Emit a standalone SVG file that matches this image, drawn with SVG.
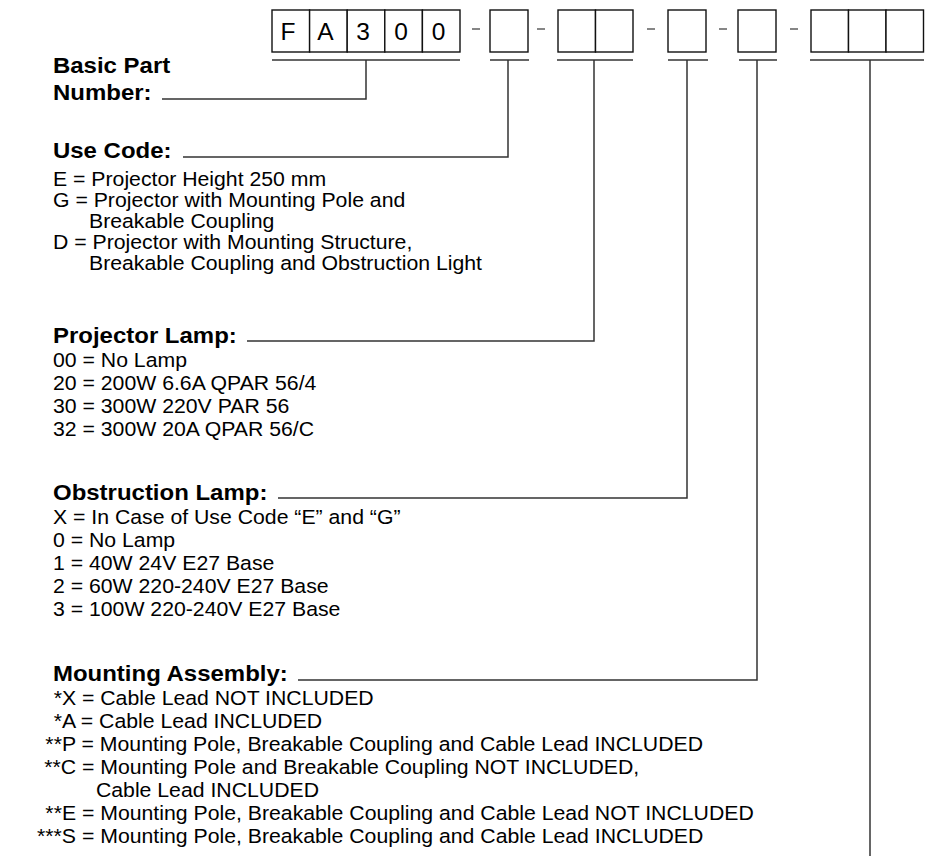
<svg xmlns="http://www.w3.org/2000/svg" width="929" height="859" viewBox="0 0 929 859">
<style>
.h{font-family:"Liberation Sans",Arial,sans-serif;font-weight:bold;font-size:22px;fill:#000}
.t{font-family:"Liberation Sans",Arial,sans-serif;font-size:19.5px;fill:#000}
.c{font-family:"Liberation Sans",Arial,sans-serif;font-size:24.5px;fill:#000;text-anchor:middle}
.box{fill:#fff;stroke:#111;stroke-width:1.4}
.ln{fill:none;stroke:#333;stroke-width:1.5}
.d{stroke:#444;stroke-width:1.3}
</style>
<rect width="929" height="859" fill="#fff"/>
<g id="part-number">
<rect class="box" x="272" y="10" width="37.6" height="42"/>
<rect class="box" x="309.6" y="10" width="37.6" height="42"/>
<rect class="box" x="347.2" y="10" width="37.6" height="42"/>
<rect class="box" x="384.8" y="10" width="37.6" height="42"/>
<rect class="box" x="422.4" y="10" width="37.6" height="42"/>
<text class="c" x="288" y="39.5">F</text>
<text class="c" x="325.5" y="39.5">A</text>
<text class="c" x="363" y="39.5">3</text>
<text class="c" x="401" y="39.5">0</text>
<text class="c" x="438.5" y="39.5">0</text>
<line class="d" x1="472" y1="29" x2="480" y2="29"/>
<rect class="box" x="490" y="10" width="38" height="42"/>
<line class="d" x1="537" y1="29" x2="545" y2="29"/>
<rect class="box" x="558" y="10" width="37.5" height="42"/>
<rect class="box" x="595.5" y="10" width="37.5" height="42"/>
<line class="d" x1="647" y1="29" x2="655" y2="29"/>
<rect class="box" x="668" y="10" width="38" height="42"/>
<line class="d" x1="719" y1="29" x2="727" y2="29"/>
<rect class="box" x="738" y="10" width="38" height="42"/>
<line class="d" x1="790" y1="29" x2="798" y2="29"/>
<rect class="box" x="811" y="10" width="37.5" height="42"/>
<rect class="box" x="848.5" y="10" width="37.5" height="42"/>
<rect class="box" x="886" y="10" width="37.5" height="42"/>
</g>
<g id="connectors">
<line class="ln" x1="272" y1="60" x2="460" y2="60"/>
<line class="ln" x1="490" y1="60" x2="529" y2="60"/>
<line class="ln" x1="557" y1="60" x2="633" y2="60"/>
<line class="ln" x1="668" y1="60" x2="708" y2="60"/>
<line class="ln" x1="739" y1="60" x2="777" y2="60"/>
<line class="ln" x1="810" y1="60" x2="924" y2="60"/>
<polyline class="ln" points="366,60 366,99 162,99"/>
<polyline class="ln" points="508,60 508,157 183,157"/>
<polyline class="ln" points="594,60 594,341 247,341"/>
<polyline class="ln" points="687,60 687,498 278,498"/>
<polyline class="ln" points="757,60 757,680 298,680"/>
<line class="ln" x1="870" y1="60" x2="870" y2="856"/>
</g>
<g id="basic-part" transform="matrix(1.09 0 0 1 -4.77 0)">
<text class="h" x="53" y="73">Basic Part</text>
<text class="h" x="53" y="100">Number:</text>
</g>
<g id="use-code" transform="matrix(1.09 0 0 1 -4.77 0)">
<text class="h" x="53" y="158">Use Code:</text>
<text class="t" x="53" y="186">E = Projector Height 250 mm</text>
<text class="t" x="53" y="207">G = Projector with Mounting Pole and</text>
<text class="t" x="86" y="228">Breakable Coupling</text>
<text class="t" x="53" y="249">D = Projector with Mounting Structure,</text>
<text class="t" x="86" y="270">Breakable Coupling and Obstruction Light</text>
</g>
<g id="projector-lamp" transform="matrix(1.09 0 0 1 -4.77 0)">
<text class="h" x="53" y="343">Projector Lamp:</text>
<text class="t" x="53" y="367">00 = No Lamp</text>
<text class="t" x="53" y="390">20 = 200W 6.6A QPAR 56/4</text>
<text class="t" x="53" y="413">30 = 300W 220V PAR 56</text>
<text class="t" x="53" y="436">32 = 300W 20A QPAR 56/C</text>
</g>
<g id="obstruction-lamp" transform="matrix(1.09 0 0 1 -4.77 0)">
<text class="h" x="53" y="500">Obstruction Lamp:</text>
<text class="t" x="53" y="524">X = In Case of Use Code “E” and “G”</text>
<text class="t" x="53" y="547">0 = No Lamp</text>
<text class="t" x="53" y="570">1 = 40W 24V E27 Base</text>
<text class="t" x="53" y="593">2 = 60W 220-240V E27 Base</text>
<text class="t" x="53" y="616">3 = 100W 220-240V E27 Base</text>
</g>
<g id="mounting-assembly" transform="matrix(1.09 0 0 1 -4.77 0)">
<text class="h" x="53" y="681">Mounting Assembly:</text>
<text class="t" x="53.6" y="705">*X = Cable Lead NOT INCLUDED</text>
<text class="t" x="53.6" y="728">*A = Cable Lead INCLUDED</text>
<text class="t" x="46" y="751">**P = Mounting Pole, Breakable Coupling and Cable Lead INCLUDED</text>
<text class="t" x="44.9" y="774">**C = Mounting Pole and Breakable Coupling NOT INCLUDED,</text>
<text class="t" x="92.4" y="797">Cable Lead INCLUDED</text>
<text class="t" x="46" y="820">**E = Mounting Pole, Breakable Coupling and Cable Lead NOT INCLUDED</text>
<text class="t" x="38.4" y="843">***S = Mounting Pole, Breakable Coupling and Cable Lead INCLUDED</text>
</g>
</svg>
